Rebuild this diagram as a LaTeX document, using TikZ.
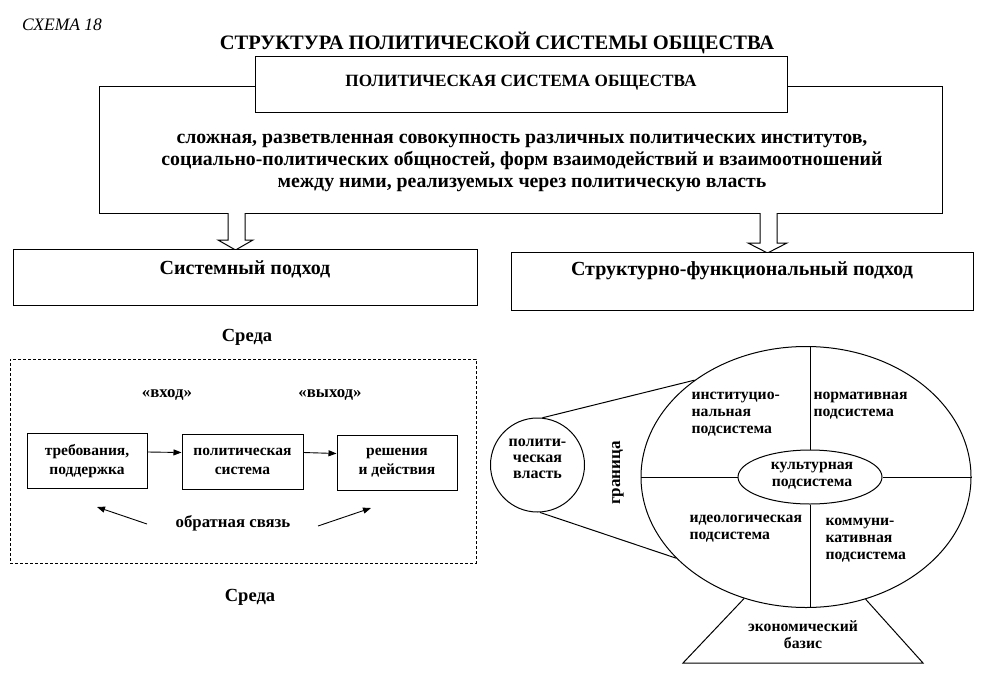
\documentclass[tikz,border=0pt]{standalone}
\usepackage{fontspec}
\setmainfont{Liberation Serif}
\usetikzlibrary{arrows.meta,shapes.geometric}
\begin{document}
\begin{tikzpicture}[x=1pt,y=-1pt,line width=1pt,
  box/.style={draw,line width=1pt,fill=white,inner sep=0},
  bigtxt/.style={font=\bfseries\fontsize{19.8}{21.8}\selectfont,inner sep=0},
  midtxt/.style={font=\bfseries\fontsize{20}{22}\selectfont,inner sep=0},
  psstxt/.style={font=\bfseries\fontsize{17.2}{20}\selectfont,inner sep=0},
  envtxt/.style={font=\bfseries\fontsize{18.5}{20}\selectfont,inner sep=0},
  sm/.style={font=\bfseries\fontsize{15.7}{17}\selectfont,inner sep=0},
  lsm/.style={font=\bfseries\fontsize{16.8}{19}\selectfont,inner sep=0},
  smb/.style={font=\bfseries\fontsize{15.5}{19}\selectfont,inner sep=0},
  lnk/.style={line width=0.9pt,-{Triangle[length=8pt,width=6pt]}},
  hollow/.style={draw,line width=1pt,fill=white},
]
\useasboundingbox (0,0) rectangle (990,677);
\fill[white] (0,0) rectangle (990,677);

% header
\node[font=\itshape\fontsize{17.5}{19}\selectfont,inner sep=0] (schema) at (62,25) {СХЕМА 18};
\node[font=\bfseries\fontsize{20.5}{23}\selectfont,inner sep=0] (title) at (497,43) {СТРУКТУРА ПОЛИТИЧЕСКОЙ СИСТЕМЫ ОБЩЕСТВА};

% definition box
\node[box,minimum width=843,minimum height=127] (def) at (520.5,149.5) {};
\node[box,minimum width=532,minimum height=55] (pss) at (521,84.5) {};
\node[psstxt] (psst) at (521,83) {ПОЛИТИЧЕСКАЯ СИСТЕМА ОБЩЕСТВА};
\node[bigtxt,align=center] (deft) at (522,163) {сложная, разветвленная совокупность различных политических институтов,\\социально-политических общностей, форм взаимодействий и взаимоотношений\\между ними, реализуемых через политическую власть};

% hollow arrows
\draw[hollow] (228,213) -- (228,240) -- (218,240) -- (235.5,250) -- (253,240) -- (245,240) -- (245,213);
\draw[hollow] (760,213) -- (760,243) -- (748,243) -- (767.5,253) -- (787,243) -- (777,243) -- (777,213);

% approach boxes
\node[box,minimum width=464,minimum height=56] (sys) at (245,277) {};
\node[midtxt] (syst) at (245,269) {Системный подход};
\node[box,minimum width=462,minimum height=58] (sf) at (742,281) {};
\node[midtxt] (sft) at (742,271) {Структурно-функциональный подход};

% left diagram
\node[envtxt] (env1) at (247,337) {Среда};
\node[draw,dash pattern=on 3pt off 2pt,line width=0.9pt,minimum width=466,minimum height=204,inner sep=0] (envbox) at (243,461) {};
\node[lsm] (vhod) at (167,395) {«вход»};
\node[lsm] (vyhod) at (330,395) {«выход»};
\node[box,smb,align=center,minimum width=120,minimum height=55] (b1) at (87,461) {требования,\\поддержка};
\node[box,smb,align=center,minimum width=121,minimum height=55] (b2) at (242.5,461.5) {политическая\\система};
\node[box,smb,align=center,minimum width=120,minimum height=55] (b3) at (397,462.5) {решения\\и действия};
\draw[lnk] ([yshift=9pt]b1.east) -- ([yshift=9pt]b2.west);
\draw[lnk] ([yshift=9pt]b2.east) -- ([yshift=9pt]b3.west);
\node[lsm] (fb) at (233,523) {обратная связь};
\coordinate (f1s) at (147,524);
\coordinate (f1e) at (97,507);
\coordinate (f2s) at (318,526);
\coordinate (f2e) at (371,508);
\draw[lnk] (f1s) -- (f1e);
\draw[lnk] (f2s) -- (f2e);
\node[envtxt] (env2) at (250,597) {Среда};

% right diagram
\node[draw,circle,minimum size=94,inner sep=0] (pc) at (537.5,465) {};
\node[align=center,font=\bfseries\fontsize{16}{15.8}\selectfont,inner sep=0] (pct) at (537.5,459) {полити-\\ческая\\власть};
\node[draw,ellipse,minimum width=330,minimum height=261,inner sep=0] (bigel) at (806,477) {};
\node[draw,ellipse,minimum width=144,minimum height=54,inner sep=0] (cult) at (810,477) {};
\node[sm,align=center] (cultt) at (812,476) {культурная\\подсистема};
\draw (cult.north) -- (cult.north |- bigel.north);
\draw (cult.south) -- (cult.south |- bigel.south);
\draw (cult.west) -- (bigel.west);
\draw (cult.east) -- (bigel.east);
\draw (pc.84) -- (bigel.139);
\draw (pc.273) -- (bigel.212);
\node[sm,align=left,anchor=west] (inst) at (691,414) {институцио-\\нальная\\подсистема};
\node[sm,align=left,anchor=west] (norm) at (813,406) {нормативная\\подсистема};
\node[sm,align=left,anchor=west] (ideo) at (689,529) {идеологическая\\подсистема};
\node[sm,align=left,anchor=west] (komm) at (825,540) {коммуни-\\кативная\\подсистема};
\node[font=\bfseries\fontsize{17}{19}\selectfont,inner sep=0,rotate=90] (gran) at (618,473) {граница};
\coordinate (tbl) at (683,663);
\coordinate (tbr) at (923,663);
\draw (bigel.243) -- (tbl) -- (tbr) -- (bigel.296);
\node[sm,align=center] (econ) at (803,635) {экономический\\базис};
\end{tikzpicture}
\end{document}
